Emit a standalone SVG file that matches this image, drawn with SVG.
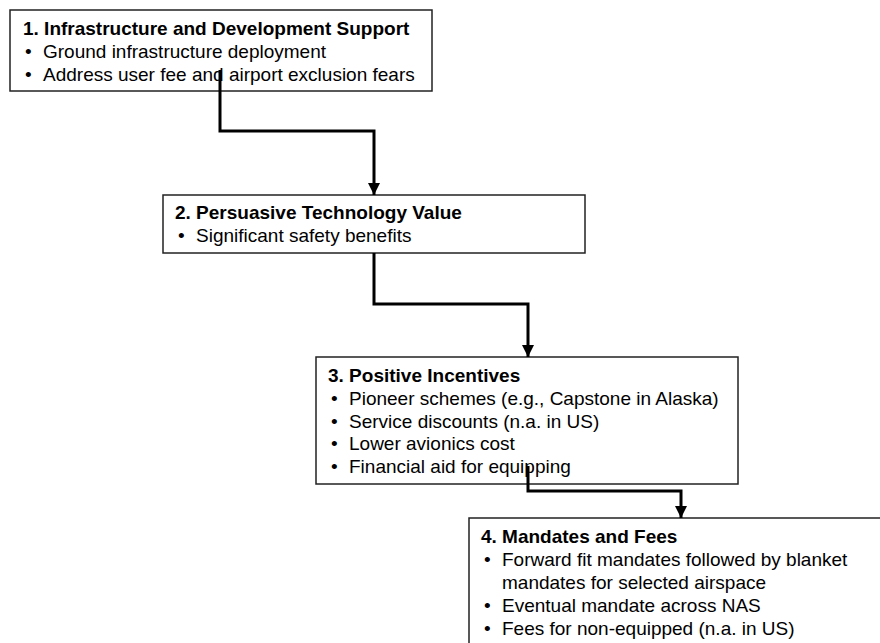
<svg xmlns="http://www.w3.org/2000/svg" width="880" height="643" viewBox="0 0 880 643">
<defs>
<style>
.box{fill:#fff;stroke:#222;stroke-width:1.5}
.t{font-family:"Liberation Sans",Arial,sans-serif;font-size:19px;fill:#000}
.b{font-weight:bold}
.conn{fill:none;stroke:#000;stroke-width:3}
</style>
<marker id="arr" viewBox="0 0 10 10" refX="10" refY="5" markerWidth="4" markerHeight="4" markerUnits="strokeWidth" orient="auto">
<path d="M0,0 L10,5 L0,10 z" fill="#000"/>
</marker>
</defs>
<rect width="880" height="643" fill="#fff"/>
<g id="node1">
<rect class="box" x="10" y="10" width="422" height="81"/>
<text class="t b" x="23" y="35">1. Infrastructure and Development Support</text>
<text class="t" x="25" y="58">•</text><text class="t" x="43" y="58">Ground infrastructure deployment</text>
<text class="t" x="25" y="81">•</text><text class="t" x="43" y="81">Address user fee and airport exclusion fears</text>
</g>
<g id="node2">
<rect class="box" x="163" y="195" width="422" height="58"/>
<text class="t b" x="175" y="219">2. Persuasive Technology Value</text>
<text class="t" x="178" y="242">•</text><text class="t" x="196" y="242">Significant safety benefits</text>
</g>
<g id="node3">
<rect class="box" x="316" y="357" width="422" height="127"/>
<text class="t b" x="328" y="382">3. Positive Incentives</text>
<text class="t" x="331" y="405">•</text><text class="t" x="349" y="405">Pioneer schemes (e.g., Capstone in Alaska)</text>
<text class="t" x="331" y="428">•</text><text class="t" x="349" y="428">Service discounts (n.a. in US)</text>
<text class="t" x="331" y="450">•</text><text class="t" x="349" y="450">Lower avionics cost</text>
<text class="t" x="331" y="473">•</text><text class="t" x="349" y="473">Financial aid for equipping</text>
</g>
<g id="node4">
<rect class="box" x="469" y="518" width="422" height="140"/>
<text class="t b" x="481" y="543">4. Mandates and Fees</text>
<text class="t" x="484" y="566">•</text><text class="t" x="502" y="566">Forward fit mandates followed by blanket</text>
<text class="t" x="502" y="589">mandates for selected airspace</text>
<text class="t" x="484" y="612">•</text><text class="t" x="502" y="612">Eventual mandate across NAS</text>
<text class="t" x="484" y="635">•</text><text class="t" x="502" y="635">Fees for non-equipped (n.a. in US)</text>
</g>
<g id="connectors">
<path class="conn" d="M220 70 V131 H374 V195" marker-end="url(#arr)"/>
<path class="conn" d="M374 253 V304 H528 V357" marker-end="url(#arr)"/>
<path class="conn" d="M528 466 V491 H681 V518" marker-end="url(#arr)"/>
</g>
</svg>
